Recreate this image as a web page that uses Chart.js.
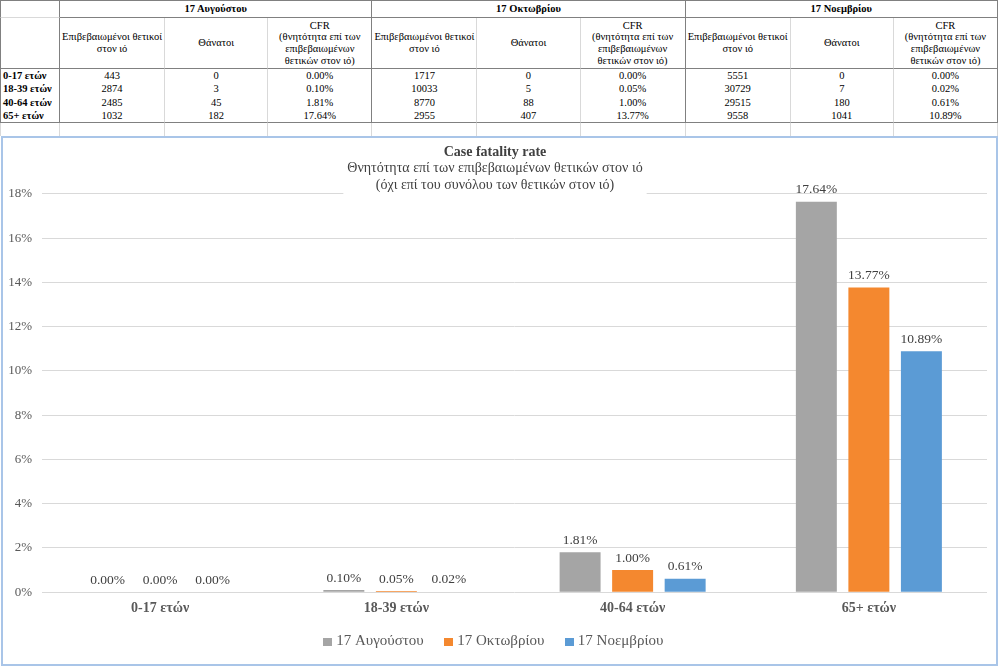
<!DOCTYPE html>
<html>
<head>
<meta charset="utf-8">
<script src="https://cdn.jsdelivr.net/npm/chart.js@4.4.1/dist/chart.umd.min.js"></script>
<style>
body { margin: 0; background: #fff; font-family: "Liberation Serif", "Times New Roman", serif; }
#tbl { position: absolute; top: 0; left: 0; border-collapse: separate; border-spacing: 0; table-layout: fixed; width: 998px; border-top: 1px solid #808080; }
#tbl td { padding: 0; text-align: center; vertical-align: middle; font-size: 10.5px; line-height: 11.7px; color: #000; white-space: nowrap; overflow: hidden; }
#tbl td.lab { text-align: left; padding-left: 2px; font-weight: bold; }
#tbl td.grp { font-weight: bold; }
#box { position: absolute; top: 136px; left: 1px; width: 993px; height: 526px; border: 2px solid #A9C5E8; background: #fff; }
</style>
</head>
<body>
<table id="tbl"></table>
<div id="box"><canvas id="cfrChart"></canvas></div>
<script>
const categories = ['0-17 ετών', '18-39 ετών', '40-64 ετών', '65+ ετών'];
const dates = ['17 Αυγούστου', '17 Οκτωβρίου', '17 Νοεμβρίου'];

const confirmedAug = [443, 2874, 2485, 1032];
const deathsAug = [0, 3, 45, 182];
const cfrAug = [0.00, 0.10, 1.81, 17.64];

const confirmedOct = [1717, 10033, 8770, 2955];
const deathsOct = [0, 5, 88, 407];
const cfrOct = [0.00, 0.05, 1.00, 13.77];

const confirmedNov = [5551, 30729, 29515, 9558];
const deathsNov = [0, 7, 180, 1041];
const cfrNov = [0.00, 0.02, 0.61, 10.89];

const colHeaders = ['Επιβεβαιωμένοι θετικοί<br>στον ιό', 'Θάνατοι', 'CFR<br>(θνητότητα επί των<br>επιβεβαιωμένων<br>θετικών στον ιό)'];
const colors = ['#A5A5A5', '#F4882F', '#5B9BD5'];

const chartTitle = 'Case fatality rate';
const chartSubtitle = ['Θνητότητα επί των επιβεβαιωμένων θετικών στον ιό', '(όχι επί του συνόλου των θετικών στον ιό)'];

const yMax = 18;
const yStep = 2;

const FONT = "'Liberation Serif', 'Times New Roman', serif";
const DARK = '1px solid #808080';
const LIGHT = '1px solid #D9D9D9';

// ---- table ----
const groups = [
    [confirmedAug, deathsAug, cfrAug],
    [confirmedOct, deathsOct, cfrOct],
    [confirmedNov, deathsNov, cfrNov]
];
const colWidths = [60, 105, 103, 104, 105, 103, 105, 105, 103, 104];

function cell(html, right, bottom, left, cls, span) {
    let s = '<td' + (span ? ' colspan="' + span + '"' : '') + (cls ? ' class="' + cls + '"' : '');
    s += ' style="border-right:' + right + ';border-bottom:' + (bottom || 'none');
    if (left) s += ';border-left:' + left;
    return s + '">' + html + '</td>';
}

let html = '<colgroup>' + colWidths.map(w => '<col style="width:' + w + 'px">').join('') + '</colgroup>';
html += '<tr style="height:17px">' + cell('', DARK, LIGHT, DARK);
dates.forEach(d => { html += cell(d, DARK, DARK, null, 'grp', 3); });
html += '</tr>';

html += '<tr style="height:51px">' + cell('', DARK, DARK, DARK);
dates.forEach(() => {
    colHeaders.forEach((h, j) => { html += cell(h, j === 2 ? DARK : LIGHT, DARK); });
});
html += '</tr>';

categories.forEach((c, r) => {
    const last = r === categories.length - 1;
    html += '<tr style="height:13.5px">' + cell(c, DARK, last ? DARK : null, DARK, 'lab');
    groups.forEach(g => {
        html += cell(g[0][r], LIGHT, last ? DARK : null);
        html += cell(g[1][r], LIGHT, last ? DARK : null);
        html += cell(g[2][r].toFixed(2) + '%', DARK, last ? DARK : null);
    });
    html += '</tr>';
});

html += '<tr style="height:13px">' + cell('', LIGHT, null, LIGHT);
for (let i = 1; i < colWidths.length; i++) html += cell('', LIGHT, null);
html += '</tr>';
document.getElementById('tbl').innerHTML = html;

// ---- chart ----
// small square legend swatches, drawn as point images so the text sits close
function swatch(color) {
    const c = document.createElement('canvas');
    c.width = 9;
    c.height = 8;
    const g = c.getContext('2d');
    g.fillStyle = color;
    g.fillRect(0, 0, 9, 8);
    return c;
}
const swatches = colors.map(swatch);

// the subtitle sits over the top gridline, blank the line behind it
const subtitleGap = {
    id: 'subtitleGap',
    beforeDatasetsDraw(chart) {
        const ctx = chart.ctx;
        const tb = chart.titleBlock;
        ctx.save();
        ctx.font = '14px ' + FONT;
        let w = 0;
        chartSubtitle.forEach(t => { w = Math.max(w, ctx.measureText(t).width); });
        const cx = (tb.left + tb.right) / 2;
        ctx.fillStyle = '#fff';
        ctx.fillRect(cx - w / 2 - 4, chart.chartArea.top - 1.5, w + 8, 3);
        ctx.restore();
    }
};

const valueLabels = {
    id: 'valueLabels',
    afterDatasetsDraw(chart) {
        const ctx = chart.ctx;
        ctx.save();
        ctx.font = '13.5px ' + FONT;
        ctx.fillStyle = '#404040';
        ctx.textAlign = 'center';
        ctx.textBaseline = 'middle';
        chart.data.datasets.forEach((ds, i) => {
            chart.getDatasetMeta(i).data.forEach((bar, j) => {
                ctx.fillText(ds.data[j].toFixed(2) + '%', bar.x, bar.y - 12);
            });
        });
        ctx.restore();
    }
};

const cfrSeries = [cfrAug, cfrOct, cfrNov];

new Chart(document.getElementById('cfrChart'), {
    type: 'bar',
    data: {
        labels: categories,
        datasets: dates.map((d, i) => ({
            label: d,
            data: cfrSeries[i],
            backgroundColor: colors[i],
            categoryPercentage: 0.667,
            barPercentage: 0.78
        }))
    },
    options: {
        responsive: true,
        maintainAspectRatio: false,
        animation: false,
        layout: { padding: { left: 0, right: 9, top: 0, bottom: 5 } },
        plugins: {
            title: {
                display: true,
                text: chartTitle,
                color: '#404040',
                font: { family: FONT, size: 14, weight: 'bold' },
                padding: { top: 5.5, bottom: 0 }
            },
            subtitle: {
                display: true,
                text: chartSubtitle,
                color: '#404040',
                font: { family: FONT, size: 14 },
                padding: { top: 0, bottom: 0 }
            },
            legend: {
                position: 'bottom',
                labels: {
                    usePointStyle: true,
                    boxWidth: 2,
                    boxHeight: 8,
                    padding: 9,
                    color: '#595959',
                    font: { family: FONT, size: 15 },
                    generateLabels: chart => chart.data.datasets.map((ds, i) => ({
                        text: ds.label + (i < chart.data.datasets.length - 1 ? '\u2003' : ''),
                        fillStyle: ds.backgroundColor,
                        strokeStyle: ds.backgroundColor,
                        lineWidth: 0,
                        pointStyle: swatches[i],
                        fontColor: '#595959',
                        hidden: false,
                        datasetIndex: i
                    }))
                }
            },
            tooltip: { enabled: false }
        },
        scales: {
            x: {
                grid: { display: false, drawTicks: false },
                border: { display: false },
                ticks: { color: '#595959', padding: 8, font: { family: FONT, size: 14, weight: 'bold' } }
            },
            y: {
                min: 0,
                max: yMax,
                grid: { color: '#D9D9D9', drawTicks: false },
                border: { display: false },
                ticks: {
                    stepSize: yStep,
                    padding: 10,
                    color: '#595959',
                    font: { family: FONT, size: 13 },
                    callback: v => v + '%'
                },
                afterFit: s => { s.width = 39; }
            }
        }
    },
    plugins: [subtitleGap, valueLabels]
});
</script>
</body>
</html>
